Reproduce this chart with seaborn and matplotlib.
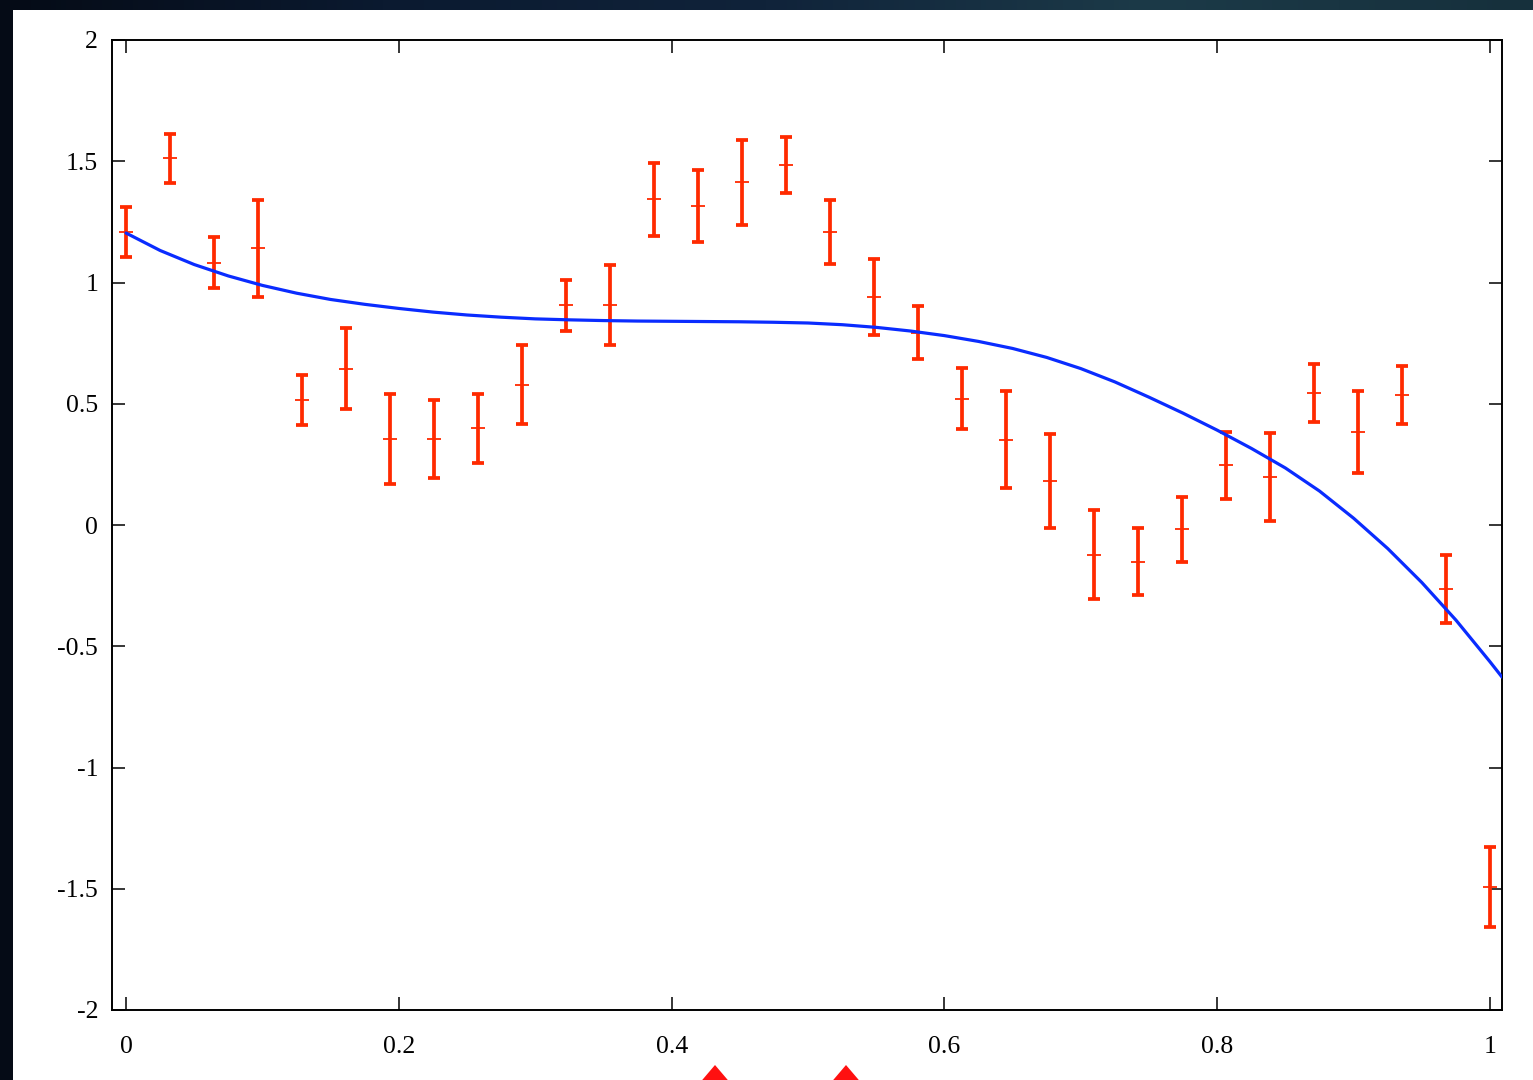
import numpy as np
import pandas as pd
import matplotlib
matplotlib.use("Agg")
import matplotlib.pyplot as plt
from matplotlib.patches import Rectangle, Polygon
from matplotlib.colors import LinearSegmentedColormap
import seaborn as sns

# ---- data ----
idx = list(range(32))
y_vals = [1.210, 1.512, 1.082, 1.141, 0.515, 0.645, 0.355, 0.355, 0.398, 0.579,
          0.906, 0.906, 1.343, 1.314, 1.413, 1.485, 1.210, 0.940, 0.793, 0.521,
          0.352, 0.181, -0.122, -0.151, -0.018, 0.246, 0.198, 0.544, 0.384, 0.536,
          -0.264, -1.493]
y_err = [0.103, 0.102, 0.106, 0.200, 0.103, 0.168, 0.186, 0.160, 0.142, 0.162,
         0.105, 0.165, 0.151, 0.149, 0.176, 0.117, 0.132, 0.157, 0.109, 0.125,
         0.200, 0.194, 0.183, 0.137, 0.135, 0.137, 0.181, 0.120, 0.168, 0.120,
         0.141, 0.165]

curve_x = [0.000, 0.025, 0.050, 0.075, 0.100, 0.125, 0.150, 0.175, 0.200, 0.225,
           0.250, 0.275, 0.300, 0.325, 0.350, 0.375, 0.400, 0.425, 0.450, 0.475,
           0.500, 0.525, 0.550, 0.575, 0.600, 0.625, 0.650, 0.675, 0.700, 0.725,
           0.750, 0.775, 0.800, 0.825, 0.850, 0.875, 0.900, 0.925, 0.950, 0.975,
           1.000, 1.0088]
curve_y = [1.204, 1.132, 1.074, 1.027, 0.988, 0.956, 0.930, 0.910, 0.893, 0.878,
           0.866, 0.857, 0.850, 0.846, 0.843, 0.841, 0.840, 0.839, 0.838, 0.836,
           0.833, 0.826, 0.815, 0.800, 0.781, 0.757, 0.728, 0.691, 0.645, 0.590,
           0.527, 0.461, 0.391, 0.316, 0.235, 0.140, 0.028, -0.097, -0.237, -0.392,
           -0.564, -0.627]

x_ticks = [0, 0.2, 0.4, 0.6, 0.8, 1.0]
x_labels = ["0", "0.2", "0.4", "0.6", "0.8", "1"]
y_ticks = [-2, -1.5, -1, -0.5, 0, 0.5, 1, 1.5, 2]
y_labels = ["-2", "-1.5", "-1", "-0.5", "0", "0.5", "1", "1.5", "2"]

x_vals = [i / 31 for i in idx]
df = pd.DataFrame({"x": x_vals, "y": y_vals, "err": y_err})
cdf = pd.DataFrame({"x": curve_x, "y": curve_y})

# ---- figure ----
sns.set_theme(style="white")
plt.rcParams["font.family"] = ["Liberation Serif", "DejaVu Serif"]
plt.rcParams["axes.unicode_minus"] = False

W, H = 1533, 1080
fig = plt.figure(figsize=(W / 100, H / 100), dpi=100)

# dark "space" background with slight gradient
bg = fig.add_axes([0, 0, 1, 1], zorder=-10)
gx = np.linspace(0, 1, 300)
grad = np.tile(gx, (10, 1))
cmap = LinearSegmentedColormap.from_list("space", ["#050b16", "#0b1a30", "#10233a", "#1c3a48", "#16303c"])
bg.imshow(grad, aspect="auto", cmap=cmap, extent=[0, 1, 0, 1])
bg.set_xlim(0, 1)
bg.set_ylim(0, 1)
bg.axis("off")
# white page
bg.add_patch(Rectangle((13 / W, 0), 1 - 13 / W, 1 - 10 / H, facecolor="white", edgecolor="none"))
# red navigation markers at bottom
for cx in (715, 846):
    bg.add_patch(Polygon([((cx - 22) / W, -0.01), (cx / W, (H - 1065) / H), ((cx + 22) / W, -0.01)],
                         closed=True, facecolor="#ff1010", edgecolor="none"))

ax = fig.add_axes([112 / W, 1 - 1010 / H, (1502 - 112) / W, (1010 - 40) / H])
ax.set_facecolor("white")

red = "#ff2a00"
blue = "#0a2cff"

ax.errorbar(df["x"], df["y"], yerr=df["err"], fmt="none", ecolor=red,
            elinewidth=2.7, capsize=4.2, capthick=2.7, zorder=3)
sns.scatterplot(data=df, x="x", y="y", marker="_", s=110, color=red,
                linewidth=1.3, ax=ax, zorder=4)
sns.lineplot(data=cdf, x="x", y="y", color=blue, linewidth=2.3, ax=ax, zorder=5,
             sort=False)

ax.set_xlim(-0.0103, 1.0088)
ax.set_ylim(-2, 2)
ax.set_xticks(x_ticks)
ax.set_xticklabels(x_labels)
ax.set_yticks(y_ticks)
ax.set_yticklabels(y_labels)
ax.set_xlabel("")
ax.set_ylabel("")

for s in ax.spines.values():
    s.set_visible(True)
    s.set_color("black")
    s.set_linewidth(1.4)

ax.tick_params(axis="both", which="major", direction="in", length=9.4, width=1.1,
               color="black", labelsize=18.5, labelcolor="black",
               top=True, right=True, bottom=True, left=True)
ax.tick_params(axis="x", pad=19)
ax.tick_params(axis="y", pad=10)

fig.savefig("out.png", dpi=100)
